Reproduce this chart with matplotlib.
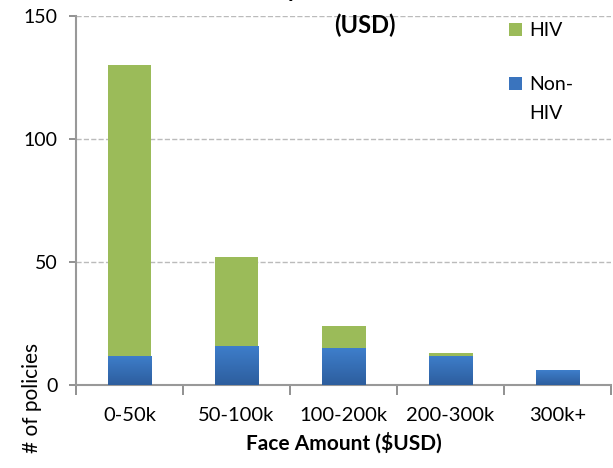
import matplotlib.pyplot as plt
import numpy as np
from matplotlib.colors import LinearSegmentedColormap

categories = ['0-50k', '50-100k', '100-200k', '200-300k', '300k+']
non_hiv = [12, 16, 15, 12, 6]
hiv = [118, 36, 9, 1, 0]
y_ticks = [0, 50, 100, 150]

plt.rcParams['font.family'] = ['Lato', 'DejaVu Sans']

fig = plt.figure(figsize=(6.13, 4.68), dpi=100)
ax = fig.add_axes([0.124, 0.177, 0.873, 0.789])

x = np.arange(len(categories))
width = 0.41
green = '#9bbb59'
blue_cmap = LinearSegmentedColormap.from_list('blue', ['#2d5e9e', '#3e7ecb'])

b1 = ax.bar(x, non_hiv, width, color='#3a74be', label='Non-', zorder=3)
b2 = ax.bar(x, hiv, width, bottom=non_hiv, color=green, label='HIV', zorder=3)

# gradient fill on the blue bars
grad = np.linspace(0, 1, 100).reshape(-1, 1)
for bar in b1:
    bx, by = bar.get_x(), bar.get_y()
    im = ax.imshow(grad, cmap=blue_cmap, aspect='auto', origin='lower',
                   extent=[bx, bx + bar.get_width(), by, by + bar.get_height()],
                   zorder=3.5)
    im.set_clip_path(bar)

ax.set_xlim(-0.5, len(categories) - 0.5)
ax.set_ylim(0, 150)
ax.set_yticks(y_ticks)
ax.set_yticklabels([str(v) for v in y_ticks], fontsize=14)
ax.set_xticks(x)
ax.set_xticklabels(categories, fontsize=14.5)
ax.set_xticks(np.arange(len(categories) + 1) - 0.5, minor=True)
ax.tick_params(axis='x', which='major', length=0, pad=16)
ax.tick_params(axis='x', which='minor', length=7, color='#888888', width=1.3)
ax.tick_params(axis='y', length=5, color='#888888', width=1.3, pad=8)

ax.grid(axis='y', linestyle='--', color='#bbbbbb', linewidth=1, zorder=0)
for s in ['top', 'right']:
    ax.spines[s].set_visible(False)
for s in ['left', 'bottom']:
    ax.spines[s].set_color('#999999')
    ax.spines[s].set_linewidth(1.5)

ax.set_xlabel('Face Amount ($USD)', fontsize=15, fontweight='bold', labelpad=6)
fig.text(0.052, 0.268, '# of policies', rotation=90, fontsize=15,
         ha='center', va='top')
# title: first line runs off the top of the picture
fig.text(0.487, 1.007, 'Face Amount by', fontsize=17, fontweight='bold',
         ha='right', va='baseline')
fig.text(0.595, 0.945, '(USD)', fontsize=17, fontweight='bold',
         ha='center', va='center')

leg = ax.legend(handles=[b2, b1], loc='upper left', bbox_to_anchor=(0.776, 1.03),
                frameon=False, fontsize=14, handlelength=0.7, handleheight=0.7,
                labelspacing=1.9, handletextpad=0.35)
fig.canvas.draw()
bb = leg.get_texts()[1].get_window_extent().transformed(fig.transFigure.inverted())
fig.text(bb.x0, bb.y0 - 0.062, 'HIV', fontsize=14, ha='left', va='bottom')

fig.savefig('out.png', dpi=100)
